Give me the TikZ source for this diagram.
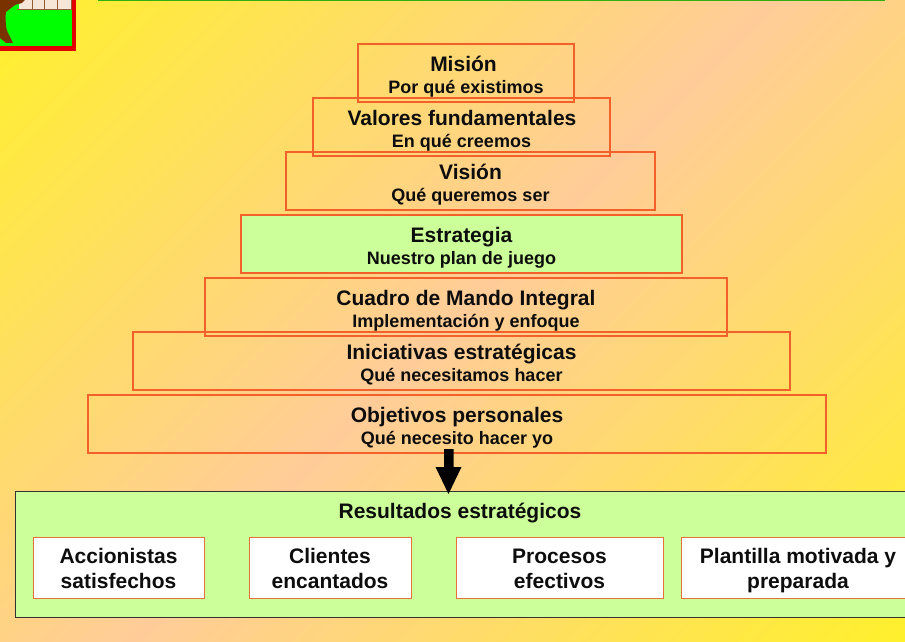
\documentclass[tikz,border=0pt]{standalone}
\usepackage{fontspec}
\setmainfont{Liberation Sans}
\definecolor{peach}{HTML}{FFCC99}
\definecolor{sun}{HTML}{FFF51E}
\definecolor{tier}{HTML}{F4602A}
\definecolor{leaf}{HTML}{CCFF99}
\definecolor{boxedge}{HTML}{E8703A}
\definecolor{bark}{HTML}{7A3200}
\definecolor{cream}{HTML}{F5E6D8}
\definecolor{rulegreen}{HTML}{30B010}
% blend whose end colours land on the far corners of the page
\pgfdeclareverticalshading{pageblend}{100bp}{color(0bp)=(sun); color(10bp)=(sun); color(50bp)=(peach); color(90bp)=(sun); color(100bp)=(sun)}
\tikzset{
  tierbox/.style={draw=tier,line width=1.2pt,minimum height=58pt,inner sep=0pt},
  heading/.style={font=\bfseries\fontsize{21}{23}\selectfont,text=black!95,inner sep=0pt,anchor=base,yshift=-1pt},
  subhead/.style={font=\bfseries\fontsize{18}{20}\selectfont,text=black!95,inner sep=0pt,anchor=base,yshift=-1pt},
  resultbox/.style={draw=boxedge,fill=white,line width=1.2pt,minimum height=61pt,inner sep=0pt,anchor=north west},
  resulttext/.style={align=center,font=\bfseries\fontsize{21}{25}\selectfont,text=black!95,inner sep=0pt,anchor=center}
}
\begin{document}
\begin{tikzpicture}[x=1pt,y=-1pt]
\useasboundingbox (0,0) rectangle (905,642);
% background with a diagonal yellow-peach-yellow blend
\shade[shading=pageblend,shading angle=45] (0,0) rectangle (905,642);
% corner emblem
\fill[green] (0,0) rectangle (72,46);
\fill[cream] (19,0) rectangle (72,10);
\foreach \x in {32,44,57,71} \draw[bark!80,line width=1pt] (\x,0) -- (\x,10);
\draw[bark!80,line width=1pt] (17,10) -- (71,10);
\fill[bark] (0,0) -- (25,0) -- (22,3) -- (15,5) -- (6,12) .. controls (5,20) and (6,30) .. (8,33) -- (13,43) -- (6,43) -- (0,38) -- cycle;
\draw[red!90!black,line width=4.5pt] (-3,48.5) -- (73.8,48.5) -- (73.8,-3);
% rule along the top edge
\draw[rulegreen,line width=2pt] (98,0.3) -- (885,0.3);
% pyramid tiers
\node[tierbox,minimum width=216pt] (mision) at (466,73) {};
\node[tierbox,minimum width=297pt] (valores) at (461.5,127) {};
\node[tierbox,minimum width=369pt] (vision) at (470.5,181) {};
\node[tierbox,fill=leaf,minimum width=441pt] (estrategia) at (461.5,244) {};
\node[tierbox,minimum width=522pt] (cuadro) at (466,307) {};
\node[tierbox,minimum width=657pt] (iniciativas) at (461.5,361) {};
\node[tierbox,minimum width=738pt] (objetivos) at (457,424) {};
% tier captions
\node[heading] (t1) at (463.5,70.7) {Misión};
\node[subhead] (s1) at (466,92.5) {Por qué existimos};
\node[heading] (t2) at (462,124.7) {Valores fundamentales};
\node[subhead] (s2) at (461.5,146.5) {En qué creemos};
\node[heading] (t3) at (470.5,178.7) {Visión};
\node[subhead] (s3) at (470.5,200.5) {Qué queremos ser};
\node[heading] (t4) at (461.5,241.7) {Estrategia};
\node[subhead] (s4) at (461.5,263.5) {Nuestro plan de juego};
\node[heading] (t5) at (466,304.7) {Cuadro de Mando Integral};
\node[subhead] (s5) at (466,326.5) {Implementación y enfoque};
\node[heading] (t6) at (461.5,358.7) {Iniciativas estratégicas};
\node[subhead] (s6) at (461.5,380.5) {Qué necesitamos hacer};
\node[heading] (t7) at (457,421.7) {Objetivos personales};
\node[subhead] (s7) at (457,443.5) {Qué necesito hacer yo};
% results panel
\node[draw=black!80,fill=leaf,line width=1.2pt,minimum width=910pt,minimum height=126pt,anchor=north west,inner sep=0pt] (resultados) at (15,491) {};
\node[heading] (rt) at (460,517) {Resultados estratégicos};
\node[resultbox,minimum width=171pt] (accionistas) at (33,537) {};
\node[resultbox,minimum width=162pt] (clientes) at (249,537) {};
\node[resultbox,minimum width=207pt] (procesos) at (456,537) {};
\node[resultbox,minimum width=230pt] (plantilla) at (681,537) {};
\node[resulttext] (ra) at (118.5,568.5) {Accionistas\\satisfechos};
\node[resulttext] (rc) at (330,568.5) {Clientes\\encantados};
\node[resulttext] (rp) at (559.5,568.5) {Procesos\\efectivos};
\node[resulttext] (rm) at (798,570.5) {Plantilla motivada y\\preparada};
% block arrow from the tiers into the panel
\fill[black] (444,449) -- (453.5,449) -- (453.5,467) -- (461.5,467) -- (448.5,494) -- (435.5,467) -- (444,467) -- cycle;
\end{tikzpicture}
\end{document}
